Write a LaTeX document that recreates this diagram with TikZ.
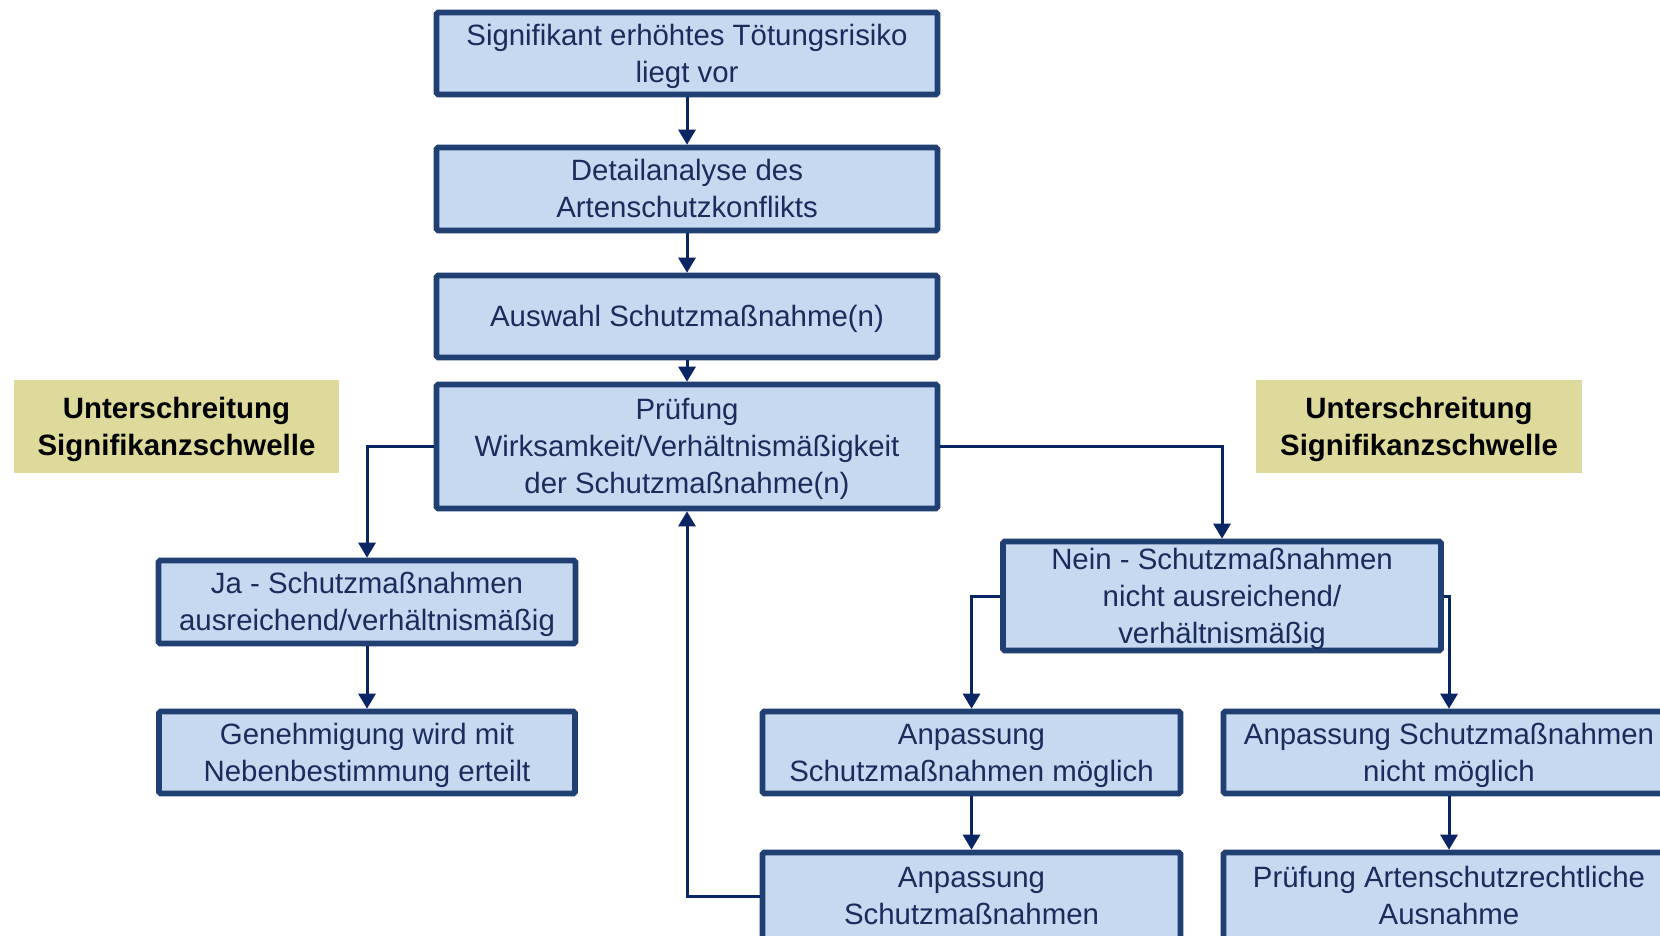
\documentclass[tikz,border=0pt]{standalone}
\usepackage{fontspec}
\setmainfont{Liberation Sans}
\usetikzlibrary{arrows.meta}
\definecolor{boxfill}{HTML}{C6D9F1}
\definecolor{boxdraw}{HTML}{203F73}
\definecolor{arrowc}{HTML}{0A2563}
\definecolor{txt}{HTML}{1A2B5C}
\definecolor{yell}{HTML}{DDDA9B}
\newcommand\tp{\rule{0pt}{26.6pt}}
\newcommand\bt{\rule[-6.2pt]{0pt}{6.2pt}}
\begin{document}
\begin{tikzpicture}[x=1pt,y=-1pt,
  box/.style={draw=boxdraw, line width=5.6pt, rounded corners=1.5pt, fill=boxfill, text=txt, align=center, inner sep=0pt, font=\fontsize{29.4}{37}\selectfont},
  note/.style={fill=yell, align=center, inner sep=0pt, outer sep=0pt, text=black, font=\fontsize{29.4}{37}\selectfont\bfseries},
  conn/.style={draw=arrowc, line width=3pt, -{Triangle[length=15pt,width=17pt]}}
]
\useasboundingbox (0,0) rectangle (1660,935);
\clip (0,0) rectangle (1660,935);

\node[box, minimum width=501pt, minimum height=82pt] (b1) at (687,53.5) {\tp Signifikant erhöhtes Tötungsrisiko\\liegt vor\bt};
\node[box, minimum width=501pt, minimum height=83pt] (b2) at (687,189) {\tp Detailanalyse des\\Artenschutzkonflikts\bt};
\node[box, minimum width=501pt, minimum height=82pt] (b3) at (687,316.5) {\tp Auswahl Schutzmaßnahme(n)\bt};
\node[box, minimum width=501pt, minimum height=124pt] (b4) at (687,446.5) {\tp Prüfung\\Wirksamkeit/Verhältnismäßigkeit\\der Schutzmaßnahme(n)\bt};

\node[note, minimum width=325pt, minimum height=93pt] (yl) at (176.5,426.5) {\tp Unterschreitung\\Signifikanzschwelle\bt};
\node[note, minimum width=326pt, minimum height=93pt] (yr) at (1419,426.5) {\tp Unterschreitung\\Signifikanzschwelle\bt};

\node[box, minimum width=417pt, minimum height=83pt] (ja) at (367,602) {\tp Ja - Schutzmaßnahmen\\ausreichend/verhältnismäßig\bt};
\node[box, minimum width=416pt, minimum height=82pt] (gen) at (367,752.5) {\tp Genehmigung wird mit\\Nebenbestimmung erteilt\bt};

\node[box, minimum width=438pt, minimum height=109pt] (nein) at (1222,596) {\tp Nein - Schutzmaßnahmen\\nicht ausreichend/\\verhältnismäßig\bt};
\node[box, minimum width=418pt, minimum height=82pt] (am) at (971.5,752.5) {\tp Anpassung\\Schutzmaßnahmen möglich\bt};
\node[box, minimum width=418pt, minimum height=87pt] (ab) at (971.5,896) {\tp Anpassung\\Schutzmaßnahmen\bt};
\node[box, minimum width=451pt, minimum height=82pt] (anm) at (1449,752.5) {\tp Anpassung Schutzmaßnahmen\\nicht möglich\bt};
\node[box, minimum width=451pt, minimum height=87pt] (pa) at (1449,896) {\tp Prüfung Artenschutzrechtliche\\Ausnahme\bt};

\draw[conn] (b1) -- (b2);
\draw[conn] (b2) -- (b3);
\draw[conn] (b3) -- (b4);
\draw[conn] (b4.west) -| (ja.north);
\draw[conn] (b4.east) -| (nein.north);
\draw[conn] (ja) -- (gen);
\draw[conn] (nein.west) -| (am.north);
\draw[conn] (nein.east) -| (anm.north);
\draw[conn] (am) -- (ab);
\draw[conn] (anm) -- (pa);
\draw[conn] (ab.west) -| (b4.south);
\end{tikzpicture}
\end{document}
